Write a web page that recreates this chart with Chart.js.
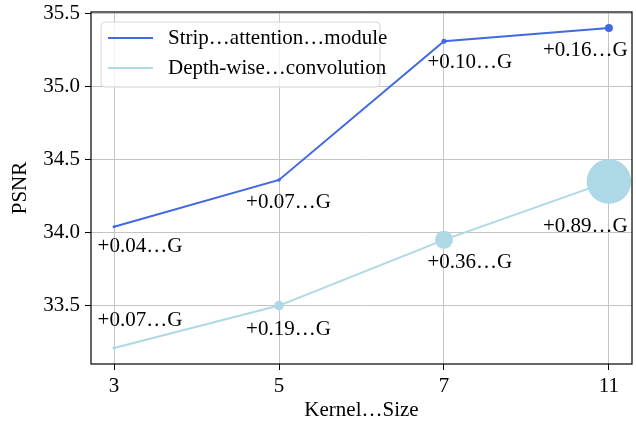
<!DOCTYPE html>
<html>
<head>
<meta charset="utf-8">
<script src="https://cdn.jsdelivr.net/npm/chart.js@4.4.0/dist/chart.umd.min.js"></script>
<style>
  body { margin: 0; background: #fff; }
</style>
</head>
<body>
<canvas id="chart" width="636" height="426"></canvas>
<script>
// --- Datos ---
const kernelSizes = ['3', '5', '7', '11'];
const stripPsnr = [34.04, 34.36, 35.31, 35.40];
const dwPsnr = [33.21, 33.50, 33.95, 34.35];
const stripFlops = [0.04, 0.07, 0.10, 0.16];
const dwFlops = [0.07, 0.19, 0.36, 0.89];
const yTicks = [33.5, 34.0, 34.5, 35.0, 35.5];
const seriesNames = ['Strip…attention…module', 'Depth-wise…convolution'];

const FONT = '"Liberation Serif", "Times New Roman", serif';
const STRIP_COLOR = '#4169e1';
const DW_COLOR = '#add8e6';

function toPoints(values) {
  return values.map((v, i) => ({ x: i, y: v }));
}

// radio del marcador a partir de los FLOPs
function radii(flops) {
  return flops.map(f => Math.max(1.5, 25 * f));
}

function flopsLabel(f) {
  return '+' + f.toFixed(2) + '…G';
}

// Etiquetas de FLOPs, marco y leyenda dibujados a mano
const extrasPlugin = {
  id: 'extras',
  afterDatasetsDraw(chart) {
    const { ctx, chartArea, scales } = chart;
    const x = scales.x;
    const y = scales.y;

    // desplazamientos de las etiquetas (dx en unidades de categoría, dy en px)
    const labelSets = [
      { values: stripPsnr, flops: stripFlops, dx: [-0.1, -0.2, -0.1, -0.4], dy: [20, 23, 21, 22] },
      { values: dwPsnr, flops: dwFlops, dx: [-0.1, -0.2, -0.1, -0.4], dy: [-27, 24, 23, 45] },
    ];

    ctx.save();
    ctx.font = '21px ' + FONT;
    ctx.fillStyle = '#000';
    ctx.textAlign = 'left';
    ctx.textBaseline = 'middle';
    labelSets.forEach(set => {
      set.values.forEach((v, i) => {
        const px = x.getPixelForValue(i + set.dx[i]);
        const py = y.getPixelForValue(v) + set.dy[i];
        ctx.fillText(flopsLabel(set.flops[i]), px, py);
      });
    });

    // marco completo
    ctx.strokeStyle = '#000';
    ctx.lineWidth = 1.2;
    ctx.strokeRect(chartArea.left, chartArea.top, chartArea.right - chartArea.left, chartArea.bottom - chartArea.top);

    // leyenda
    const lx = chartArea.left + 10;
    const ly = chartArea.top + 10;
    const lw = 279;
    const lh = 65;
    ctx.beginPath();
    ctx.roundRect(lx, ly, lw, lh, 4);
    ctx.fillStyle = 'rgba(255,255,255,0.8)';
    ctx.fill();
    ctx.strokeStyle = '#d6d6d6';
    ctx.lineWidth = 1;
    ctx.stroke();

    const colors = [STRIP_COLOR, DW_COLOR];
    seriesNames.forEach((name, i) => {
      const rowY = ly + 16 + i * 30;
      ctx.beginPath();
      ctx.moveTo(lx + 7, rowY);
      ctx.lineTo(lx + 52, rowY);
      ctx.strokeStyle = colors[i];
      ctx.lineWidth = 2;
      ctx.stroke();
      ctx.fillStyle = '#000';
      ctx.fillText(name, lx + 67, rowY);
    });
    ctx.restore();
  }
};

function renderChart() {
  const ctx = document.getElementById('chart');

  new Chart(ctx, {
    type: 'line',
    data: {
      datasets: [
        {
          label: seriesNames[0],
          data: toPoints(stripPsnr),
          borderColor: STRIP_COLOR,
          backgroundColor: STRIP_COLOR,
          borderWidth: 2,
          pointRadius: radii(stripFlops),
          pointBorderWidth: 0,
          tension: 0
        },
        {
          label: seriesNames[1],
          data: toPoints(dwPsnr),
          borderColor: DW_COLOR,
          backgroundColor: DW_COLOR,
          borderWidth: 2,
          pointRadius: radii(dwFlops),
          pointBorderWidth: 0,
          tension: 0
        }
      ]
    },
    options: {
      responsive: false,
      animation: false,
      layout: { autoPadding: false, padding: { left: 0, top: 12, right: 4, bottom: 0 } },
      scales: {
        x: {
          type: 'linear',
          min: -0.14,
          max: 3.14,
          afterBuildTicks: axis => { axis.ticks = kernelSizes.map((k, i) => ({ value: i })); },
          afterFit: axis => {
            axis.height = 62;
            axis.paddingLeft = 0;
            axis.paddingRight = 0;
          },
          ticks: {
            callback: value => kernelSizes[value],
            color: '#000',
            font: { family: FONT, size: 21 },
            padding: 4,
            maxRotation: 0
          },
          grid: { color: '#c4c4c4', lineWidth: 1, tickLength: 6, tickColor: '#000' },
          border: { display: false },
          title: {
            display: true,
            text: 'Kernel…Size',
            color: '#000',
            font: { family: FONT, size: 21 },
            padding: { top: 0, bottom: 3 }
          }
        },
        y: {
          min: 33.1,
          max: 35.51,
          afterBuildTicks: axis => { axis.ticks = yTicks.map(v => ({ value: v })); },
          afterFit: axis => {
            axis.width = 91;
            axis.paddingTop = 0;
            axis.paddingBottom = 0;
          },
          ticks: {
            callback: value => value.toFixed(1),
            color: '#000',
            font: { family: FONT, size: 21 },
            padding: 5
          },
          grid: { color: '#c4c4c4', lineWidth: 1, tickLength: 6, tickColor: '#000' },
          border: { display: false },
          title: {
            display: true,
            text: 'PSNR',
            color: '#000',
            font: { family: FONT, size: 21 },
            padding: { top: 8, bottom: 0 }
          }
        }
      },
      plugins: {
        legend: { display: false },
        tooltip: { enabled: false }
      }
    },
    plugins: [extrasPlugin]
  });
}

document.addEventListener('DOMContentLoaded', renderChart);
</script>
</body>
</html>
